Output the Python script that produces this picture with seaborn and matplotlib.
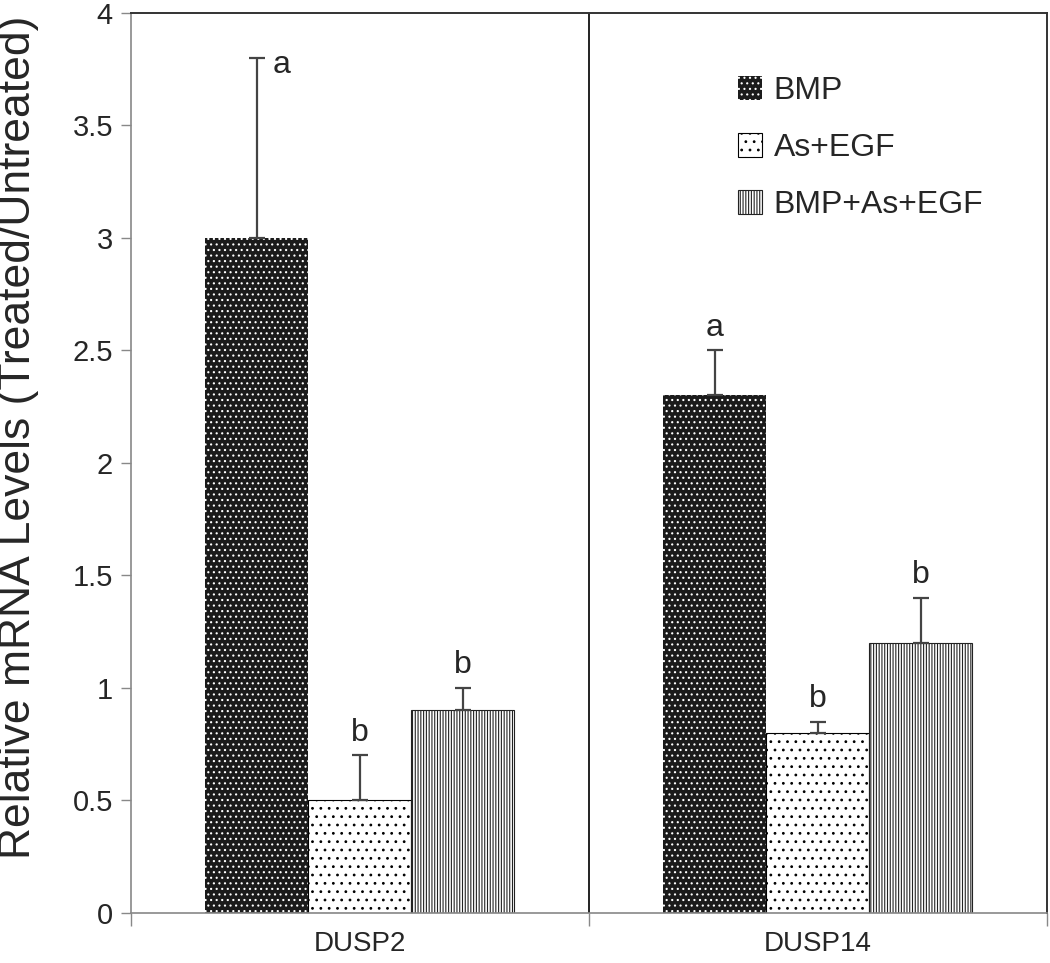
import pandas as pd
import matplotlib
matplotlib.use('Agg')
import matplotlib.pyplot as plt
import seaborn as sns

genes = ['DUSP2', 'DUSP14']
treatments = ['BMP', 'As+EGF', 'BMP+As+EGF']
means = {'BMP': [3.0, 2.3], 'As+EGF': [0.5, 0.8], 'BMP+As+EGF': [0.9, 1.2]}
errs = {'BMP': [0.8, 0.2], 'As+EGF': [0.2, 0.05], 'BMP+As+EGF': [0.1, 0.2]}
letters = {'BMP': ['a', 'a'], 'As+EGF': ['b', 'b'], 'BMP+As+EGF': ['b', 'b']}
yticks = [0, 0.5, 1, 1.5, 2, 2.5, 3, 3.5, 4]
ytick_labels = ['0', '0.5', '1', '1.5', '2', '2.5', '3', '3.5', '4']

rows = []
for t in treatments:
    for i, g in enumerate(genes):
        rows.append({'gene': g, 'treatment': t, 'value': means[t][i]})
df = pd.DataFrame(rows)

sns.set_style('white')
plt.rcParams['font.family'] = ['Liberation Sans', 'DejaVu Sans']
plt.rcParams['hatch.linewidth'] = 0.8

fig = plt.figure(figsize=(10.5, 9.63), dpi=100)
ax = fig.add_axes([0.1248, 0.052, 0.872, 0.9345])

sns.barplot(data=df, x='gene', y='value', hue='treatment', order=genes,
            hue_order=treatments, width=0.675, errorbar=None, legend=False, ax=ax)

styles = {
    'BMP': dict(fc='#1b1b1b', ec='white', hatch='...', lw=0),
    'As+EGF': dict(fc='white', ec='black', hatch='..', lw=0.8),
    'BMP+As+EGF': dict(fc='white', ec='#222222', hatch='||||||', lw=0.8),
}
for t, cont in zip(treatments, ax.containers):
    st = styles[t]
    for i, p in enumerate(cont):
        p.set_facecolor(st['fc'])
        p.set_edgecolor(st['ec'])
        p.set_hatch(st['hatch'])
        p.set_linewidth(st['lw'])
        xc = p.get_x() + p.get_width() / 2
        h = p.get_height()
        e = errs[t][i]
        ax.errorbar(xc, h, yerr=[[0], [e]], fmt='none', ecolor='#444444',
                    elinewidth=1.6, capsize=6, capthick=1.6, zorder=3)
        if t == 'BMP' and i == 0:
            ax.text(xc + 0.053, h + e - 0.03, letters[t][i], ha='center', va='center',
                    fontsize=23)
        else:
            ax.text(xc, h + e + 0.035, letters[t][i], ha='center', va='bottom',
                    fontsize=23)

ax.axvline(0.5, color='#222222', lw=1.4, zorder=0)

ax.set_xlim(-0.5, 1.5)
ax.set_ylim(0, 4)
ax.set_yticks(yticks)
ax.set_yticklabels(ytick_labels, fontsize=21)
ax.set_xticks([0, 1])
ax.set_xticklabels(genes, fontsize=20)
ax.set_xticks([-0.5, 0.5, 1.5], minor=True)
ax.tick_params(axis='x', which='major', length=0, pad=13)
ax.tick_params(axis='x', which='minor', length=9, width=1, color='#888888', direction='out', bottom=True)
ax.tick_params(axis='y', length=7, width=1, color='#888888', direction='out', left=True, pad=6)
ax.set_xlabel('')
ax.set_ylabel('Relative mRNA Levels (Treated/Untreated)', fontsize=32)
ax.yaxis.set_label_coords(-0.1, 0.528)

for s in ['left', 'bottom']:
    ax.spines[s].set_color('#888888')
    ax.spines[s].set_linewidth(1.2)
for s in ['top', 'right']:
    ax.spines[s].set_color('#333333')
    ax.spines[s].set_linewidth(1.4)

handles = [cont[0] for cont in ax.containers]
ax.legend(handles, treatments, loc='upper left', bbox_to_anchor=(0.632, 0.962),
          frameon=False, fontsize=23, handlelength=0.75, handleheight=0.75,
          handletextpad=0.35, labelspacing=0.85)

fig.savefig('out.png', dpi=100)
